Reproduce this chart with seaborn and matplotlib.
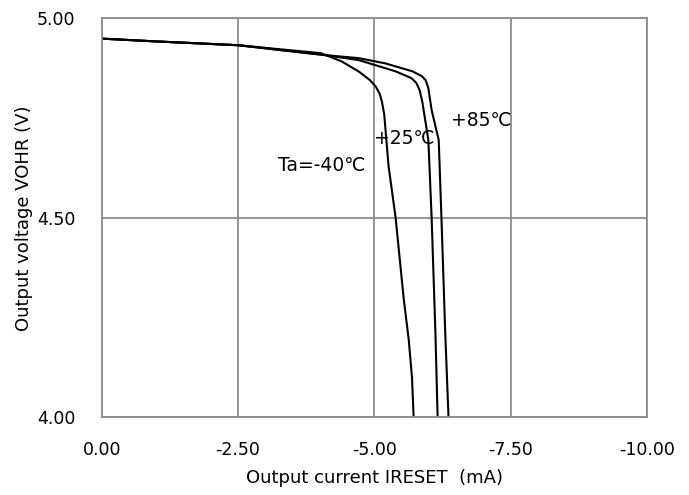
import pandas as pd
import matplotlib.pyplot as plt
import seaborn as sns

# Curve data (current in mA, voltage in V)
i_m40 = [0.0, -1.0, -2.5, -4.02, -4.4, -4.72, -4.92, -5.03, -5.10, -5.14, -5.18, -5.26, -5.39, -5.54, -5.63, -5.69, -5.72]
v_m40 = [4.949, 4.942, 4.9325, 4.9125, 4.892, 4.866, 4.845, 4.828, 4.81, 4.79, 4.76, 4.63, 4.50, 4.295, 4.195, 4.10, 4.00]

i_25 = [0.0, -1.0, -2.5, -4.11, -4.72, -5.39, -5.68, -5.77, -5.83, -5.88, -5.99, -6.05, -6.12, -6.16]
v_25 = [4.949, 4.942, 4.9325, 4.9075, 4.895, 4.867, 4.85, 4.838, 4.82, 4.79, 4.695, 4.50, 4.21, 4.00]

i_85 = [0.0, -1.0, -2.5, -4.11, -4.72, -5.20, -5.70, -5.87, -5.94, -5.99, -6.05, -6.18, -6.23, -6.30, -6.36]
v_85 = [4.949, 4.942, 4.9325, 4.9075, 4.90, 4.887, 4.867, 4.855, 4.845, 4.825, 4.77, 4.695, 4.50, 4.21, 4.00]

x_ticks = [0.0, -2.5, -5.0, -7.5, -10.0]
y_ticks = [4.0, 4.5, 5.0]

df = pd.concat([
    pd.DataFrame({"current": i_m40, "voltage": v_m40, "temp": "-40"}),
    pd.DataFrame({"current": i_25, "voltage": v_25, "temp": "+25"}),
    pd.DataFrame({"current": i_85, "voltage": v_85, "temp": "+85"}),
])

sns.set_style("white")
plt.rcParams["font.family"] = ["DejaVu Sans"]
plt.rcParams["text.color"] = "black"
plt.rcParams["axes.labelcolor"] = "black"

fig = plt.figure(figsize=(6.89, 4.95), dpi=100)
ax = fig.add_axes([0.1476, 0.1566, 0.7915, 0.8065])

sns.lineplot(data=df, x="current", y="voltage", units="temp", estimator=None,
             sort=False, color="black", linewidth=1.5, ax=ax)

grid_c = "#8c8c8c"
ax.set_xlim(0, -10)
ax.set_ylim(4.0, 5.0)
ax.set_xticks(x_ticks)
ax.set_yticks(y_ticks)
ax.set_xticklabels([f"{v:.2f}" for v in x_ticks])
ax.set_yticklabels([f"{v:.2f}" for v in y_ticks])
ax.grid(True, color=grid_c, linewidth=1.3)
ax.set_axisbelow(True)
for s in ax.spines.values():
    s.set_color(grid_c)
    s.set_linewidth(1.3)
ax.tick_params(axis="x", direction="out", length=5, width=1.3, color=grid_c,
               labelcolor="black", labelsize=12.5, pad=12)
ax.tick_params(axis="y", length=0, labelcolor="black", labelsize=12.5, pad=19)

ax.set_xlabel("Output current IRESET  (mA)", fontsize=13, labelpad=7)
ax.set_ylabel("Output voltage VOHR (V)", fontsize=13, labelpad=3)

ax.text(-6.4, 4.745, "+85℃", fontsize=13.5, ha="left", va="center")
ax.text(-4.99, 4.70, "+25℃", fontsize=13.5, ha="left", va="center")
ax.text(-3.23, 4.63, "Ta=-40℃", fontsize=13.5, ha="left", va="center")

fig.savefig("out.png", dpi=100)
